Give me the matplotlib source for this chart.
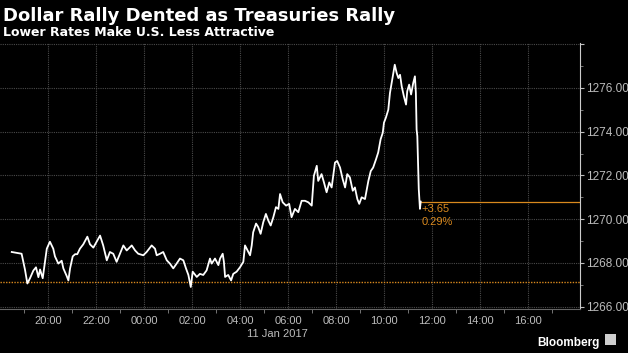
import matplotlib
matplotlib.use('Agg')
import matplotlib.pyplot as plt
from matplotlib.patches import Rectangle
from matplotlib.ticker import FixedLocator

# hours after 18:00 on 10 Jan 2017, and the gold price
hours = [0.49, 0.90, 1.04, 1.14, 1.25, 1.39, 1.50, 1.60, 1.67, 1.78,
         1.88, 1.95, 2.08, 2.22, 2.29, 2.43, 2.57, 2.64, 2.78, 2.85,
         2.92, 3.03, 3.13, 3.22, 3.33, 3.47, 3.64, 3.75, 3.89, 4.03,
         4.17, 4.30, 4.45, 4.58, 4.72, 4.86, 5.00, 5.14, 5.28, 5.49,
         5.63, 5.76, 5.97, 6.11, 6.32, 6.46, 6.53, 6.67, 6.80, 6.95,
         7.08, 7.22, 7.36, 7.50, 7.64, 7.75, 7.85, 7.95, 8.03, 8.20,
         8.33, 8.47, 8.61, 8.75, 8.82, 8.96, 9.10, 9.17, 9.28, 9.33,
         9.38, 9.51, 9.63, 9.72, 9.86, 10.00, 10.14, 10.21, 10.28, 10.42,
         10.49, 10.55, 10.67, 10.76, 10.86, 10.97, 11.08, 11.18, 11.28, 11.39,
         11.50, 11.60, 11.67, 11.78, 11.92, 12.05, 12.15, 12.29, 12.43, 12.57,
         12.71, 12.85, 12.99, 13.08, 13.20, 13.26, 13.40, 13.50, 13.61, 13.72,
         13.82, 13.96, 14.05, 14.17, 14.28, 14.38, 14.47, 14.58, 14.70, 14.79,
         14.89, 14.97, 15.07, 15.21, 15.35, 15.45, 15.55, 15.67, 15.76, 15.86,
         15.95, 16.00, 16.08, 16.18, 16.25, 16.32, 16.39, 16.45, 16.53, 16.60,
         16.67, 16.74, 16.83, 16.92, 16.97, 17.05, 17.13, 17.22, 17.29, 17.33,
         17.36, 17.39, 17.45, 17.50, 17.53]
price = [1268.50, 1268.42, 1267.70, 1267.06, 1267.30, 1267.65, 1267.80, 1267.35, 1267.70, 1267.30,
         1268.10, 1268.65, 1268.97, 1268.65, 1268.30, 1267.97, 1268.10, 1267.75, 1267.40, 1267.20,
         1267.75, 1268.30, 1268.40, 1268.40, 1268.65, 1268.85, 1269.20, 1268.85, 1268.70, 1268.97,
         1269.25, 1268.80, 1268.12, 1268.50, 1268.42, 1268.05, 1268.42, 1268.80, 1268.57, 1268.80,
         1268.57, 1268.42, 1268.35, 1268.50, 1268.80, 1268.65, 1268.35, 1268.42, 1268.50, 1268.12,
         1267.97, 1267.75, 1267.97, 1268.20, 1268.12, 1267.75, 1267.45, 1266.90, 1267.60, 1267.36,
         1267.50, 1267.45, 1267.66, 1268.20, 1267.97, 1268.20, 1267.90, 1268.20, 1268.42, 1268.05,
         1267.36, 1267.45, 1267.20, 1267.50, 1267.60, 1267.80, 1268.05, 1268.80, 1268.65, 1268.35,
         1268.80, 1269.40, 1269.80, 1269.64, 1269.33, 1269.86, 1270.24, 1269.94, 1269.71, 1270.09,
         1270.55, 1270.47, 1271.15, 1270.77, 1270.62, 1270.70, 1270.09, 1270.47, 1270.32, 1270.84,
         1270.84, 1270.77, 1270.62, 1271.98, 1272.44, 1271.75, 1272.06, 1271.68, 1271.23, 1271.68,
         1271.45, 1272.59, 1272.66, 1272.36, 1271.83, 1271.45, 1272.06, 1271.91, 1271.30, 1271.45,
         1270.92, 1270.70, 1271.00, 1270.92, 1271.75, 1272.20, 1272.36, 1272.74, 1273.05, 1273.65,
         1273.95, 1274.41, 1274.64, 1275.00, 1275.77, 1276.23, 1276.68, 1277.06, 1276.68, 1276.45,
         1276.60, 1276.07, 1275.62, 1275.24, 1275.85, 1276.15, 1275.70, 1276.23, 1276.53, 1275.77,
         1274.10, 1273.80, 1271.38, 1270.47, 1270.80]

prev_close = 1267.15
last = 1270.80
change_label = '+3.65'
pct_label = '0.29%'

xtick_pos = [2, 4, 6, 8, 10, 12, 14, 16, 18, 20, 22]
xtick_labels = ['20:00', '22:00', '00:00', '02:00', '04:00', '06:00',
                '08:00', '10:00', '12:00', '14:00', '16:00']
ytick_pos = [1266, 1268, 1270, 1272, 1274, 1276, 1278]
ytick_labels = ['1266.00', '1268.00', '1270.00', '1272.00', '1274.00', '1276.00', '']

orange = '#d9891e'
grey = '#bdbdbd'
plt.rcParams['font.family'] = ['Liberation Sans', 'DejaVu Sans']

fig = plt.figure(figsize=(6.28, 3.53), dpi=100, facecolor='black')
ax = fig.add_axes([0.0, 0.125, 0.9236, 0.753], facecolor='black')

ax.plot(hours, price, color='white', lw=1.3, zorder=3)
ax.axhline(prev_close, color=orange, lw=1.0, ls=(0, (1, 1)), zorder=2)
ax.plot([hours[-1], 24.2], [last, last], color=orange, lw=0.9, zorder=2)
ax.text(hours[-1] + 0.05, last - 0.12, change_label, color=orange, fontsize=8, va='top', ha='left')
ax.text(hours[-1] + 0.05, last - 0.72, pct_label, color=orange, fontsize=8, va='top', ha='left')

ax.set_xlim(0, 24.17)
ax.set_ylim(1265.9, 1278.05)

ax.xaxis.set_major_locator(FixedLocator(xtick_pos))
ax.set_xticklabels(xtick_labels)
ax.xaxis.set_minor_locator(FixedLocator([h for h in range(1, 24, 2)]))
ax.yaxis.tick_right()
ax.yaxis.set_major_locator(FixedLocator(ytick_pos))
ax.set_yticklabels(ytick_labels)
ax.yaxis.set_minor_locator(FixedLocator([1267, 1269, 1271, 1273, 1275, 1277]))

ax.tick_params(axis='x', which='major', length=0, colors=grey, labelsize=8, pad=5)
ax.tick_params(axis='x', which='minor', length=3, color='#888888')
ax.tick_params(axis='y', which='major', length=3, colors=grey, labelsize=8.5, pad=1)
ax.tick_params(axis='y', which='minor', length=2, color='#888888')

ax.grid(True, which='major', color='#4a4a4a', lw=0.8, ls=(0, (1, 1)))
for s in ['top', 'left']:
    ax.spines[s].set_visible(False)
ax.spines['right'].set_color('#cccccc')
ax.spines['bottom'].set_color('#666666')

fig.text(0.49, 0.045, '11 Jan 2017', color=grey, fontsize=8, ha='right')
fig.text(0.004, 0.94, 'Dollar Rally Dented as Treasuries Rally', color='white',
         fontsize=13, fontweight='bold', family='DejaVu Sans')
fig.text(0.004, 0.898, 'Lower Rates Make U.S. Less Attractive', color='white',
         fontsize=9, fontweight='bold', family='DejaVu Sans')
fig.text(0.955, 0.02, 'Bloomberg', color='white', fontsize=8.5, fontweight='bold', ha='right')
fig.patches.append(Rectangle((0.963, 0.022), 0.018, 0.032, transform=fig.transFigure,
                             facecolor='#cfcfcf', edgecolor='none'))

fig.savefig('out.png', dpi=100, facecolor='black')
